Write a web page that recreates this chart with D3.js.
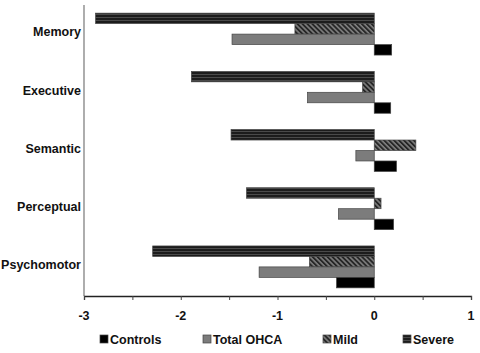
<!DOCTYPE html>
<html>
<head>
<meta charset="utf-8">
<script src="https://cdn.jsdelivr.net/npm/d3@7"></script>
<style>
  body { margin: 0; background: #fff; }
  text { font-family: "Liberation Sans", Arial, sans-serif; font-weight: bold; fill: #111; }
</style>
</head>
<body>
<div id="chart"></div>
<script>
// domains
var categories = ["Memory", "Executive", "Semantic", "Perceptual", "Psychomotor"];
var seriesNames = ["Controls", "Total OHCA", "Mild", "Severe"];
var barOrder = ["Severe", "Mild", "Total OHCA", "Controls"]; // top to bottom within a group

// values
var controls  = [0.18, 0.17, 0.23, 0.20, -0.39];
var totalOhca = [-1.47, -0.69, -0.19, -0.37, -1.19];
var mild      = [-0.82, -0.12, 0.43, 0.07, -0.67];
var severe    = [-2.88, -1.89, -1.48, -1.32, -2.29];

var xTicks = [-3, -2, -1, 0, 1];
var xMinorTicks = [-3, -2.5, -2, -1.5, -1, -0.5, 0, 0.5, 1];

var seriesValues = {
  "Controls": controls,
  "Total OHCA": totalOhca,
  "Mild": mild,
  "Severe": severe
};

var fills = {
  "Controls": "#000",
  "Total OHCA": "#7c7c7c",
  "Mild": "url(#mildPat)",
  "Severe": "url(#severePat)"
};

var width = 480, height = 353;

var svg = d3.select("#chart")
  .append("svg")
    .attr("width", width)
    .attr("height", height);

// patterns
var defs = svg.append("defs");
var sp = defs.append("pattern")
  .attr("id", "severePat")
  .attr("patternUnits", "userSpaceOnUse")
  .attr("width", 6).attr("height", 3);
sp.append("rect").attr("width", 6).attr("height", 3).attr("fill", "#4a4a4a");
sp.append("rect").attr("width", 6).attr("height", 2).attr("fill", "#1c1c1c");

var mp = defs.append("pattern")
  .attr("id", "mildPat")
  .attr("patternUnits", "userSpaceOnUse")
  .attr("width", 3.5).attr("height", 6)
  .attr("patternTransform", "rotate(-45)");
mp.append("rect").attr("width", 3.5).attr("height", 6).attr("fill", "#808080");
mp.append("rect").attr("width", 1.9).attr("height", 6).attr("fill", "#262626");

// scales
var x = d3.scaleLinear()
  .domain([-3, 1])
  .range([84, 471]);

var y = d3.scaleBand()
  .domain(categories)
  .range([5, 296])
  .paddingInner(0.28)
  .paddingOuter(0.14);

var yInner = d3.scaleBand()
  .domain(barOrder)
  .range([0, y.bandwidth()]);

// bars
var rows = [];
categories.forEach(function(c, i) {
  barOrder.forEach(function(s) {
    rows.push({cat: c, series: s, value: seriesValues[s][i]});
  });
});

svg.append("g")
  .selectAll("rect")
  .data(rows)
  .enter()
  .append("rect")
    .attr("x", function(d) { return x(Math.min(0, d.value)); })
    .attr("y", function(d) { return y(d.cat) + yInner(d.series); })
    .attr("width", function(d) { return Math.abs(x(d.value) - x(0)); })
    .attr("height", yInner.bandwidth())
    .attr("fill", function(d) { return fills[d.series]; })
    .attr("stroke", "#444")
    .attr("stroke-width", 0.7);

// y axis line + category labels
svg.append("line")
  .attr("x1", 84).attr("x2", 84)
  .attr("y1", 5).attr("y2", 296)
  .attr("stroke", "#777").attr("stroke-width", 1.2);

svg.append("g")
  .selectAll("text")
  .data(categories)
  .enter()
  .append("text")
    .attr("x", 81)
    .attr("y", function(d) { return y(d) + y.bandwidth() / 2 - 1; })
    .attr("text-anchor", "end")
    .attr("dominant-baseline", "middle")
    .style("font-size", "12.5px")
    .text(function(d) { return d; });

// x axis
var xAxis = svg.append("g")
  .attr("transform", "translate(0,296)")
  .call(d3.axisBottom(x).tickValues(xMinorTicks).tickSize(4).tickFormat(""));
xAxis.select(".domain").attr("stroke", "#222").attr("stroke-width", 1.3);
xAxis.selectAll(".tick line").attr("stroke", "#444");

svg.append("g")
  .selectAll("text")
  .data(xTicks)
  .enter()
  .append("text")
    .attr("x", function(d) { return x(d); })
    .attr("y", 320)
    .attr("text-anchor", "middle")
    .style("font-size", "12.5px")
    .text(function(d) { return d; });

// legend
var legendX = [100, 203, 323, 403];
var legend = svg.append("g")
  .selectAll("g")
  .data(seriesNames)
  .enter()
  .append("g")
    .attr("transform", function(d, i) { return "translate(" + legendX[i] + ",335)"; });

legend.append("rect")
  .attr("width", 8).attr("height", 8)
  .attr("fill", function(d) { return fills[d]; })
  .attr("stroke", "#444")
  .attr("stroke-width", 0.7);

legend.append("text")
  .attr("x", 10)
  .attr("y", 8.5)
  .style("font-size", "12.5px")
  .text(function(d) { return d; });
</script>
</body>
</html>
